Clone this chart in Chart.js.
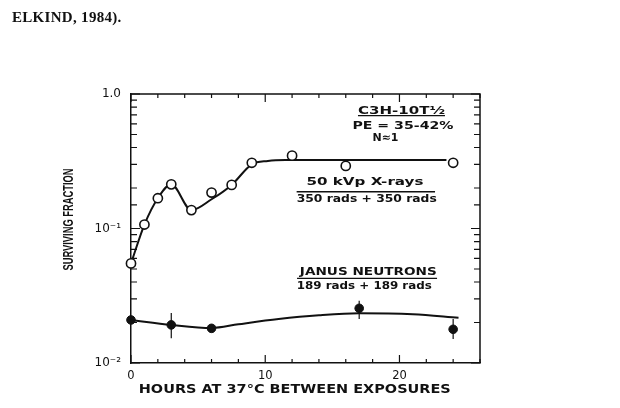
<!DOCTYPE html>
<html>
<head>
<meta charset="utf-8">
<script src="https://cdn.jsdelivr.net/npm/chart.js"></script>
<style>
  body { margin: 0; background: #fff; }
  #cap { position: absolute; left: 12px; top: 9px; font: bold 15px "Liberation Serif", serif; color: #111; letter-spacing: 0.3px; }
  #wrap { position: absolute; left: 0; top: 0; width: 620px; height: 408px; }
</style>
</head>
<body>
<div id="wrap"><canvas id="mycanvas" width="620" height="408"></canvas></div>
<div id="cap">ELKIND, 1984).</div>
<script>
// measured points (hours between exposures, surviving fraction)
var xrayHours = [0, 1, 2, 3, 4.5, 6, 7.5, 9, 12, 16, 24];
var xrayValues = [0.055, 0.107, 0.168, 0.213, 0.137, 0.185, 0.211, 0.308, 0.348, 0.292, 0.308];
var neutronHours = [0, 3, 6, 17, 24];
var neutronValues = [0.0209, 0.0192, 0.0181, 0.0255, 0.0178];
var neutronErrLow = [0.0205, 0.0153, 0.0181, 0.0212, 0.0151];
var neutronErrHigh = [0.0213, 0.0235, 0.0181, 0.0290, 0.0212];

// hand drawn fit curves
var xrayFitHours = [0, 1, 2, 3, 4.5, 6, 7.5, 9, 10.2, 11.5, 23.5];
var xrayFitValues = [0.055, 0.107, 0.168, 0.213, 0.137, 0.165, 0.211, 0.300, 0.318, 0.323, 0.323];
var neutronFitHours = [0, 3, 6, 8, 11, 14, 17, 21, 24.4];
var neutronFitValues = [0.0209, 0.0192, 0.0182, 0.0194, 0.0212, 0.0226, 0.0234, 0.0230, 0.0217];

// tick labels
var yTickValues = [1, 0.1, 0.01];
var yTickLabels = ['1.0', '10\u207B\u00B9', '10\u207B\u00B2'];
var xTickValues = [0, 10, 20];
var xTickLabels = ['0', '10', '20'];

// labels written inside the plot
var noteTexts = ['C3H-10T\u00BD', 'PE = 35-42%', 'N\u22481', '50 kVp X-rays', '350 rads + 350 rads', 'JANUS NEUTRONS', '189 rads + 189 rads'];
var noteHours = [20.15, 20.26, 18.96, 17.43, 17.56, 17.68, 17.38];
var noteValues = [0.747, 0.578, 0.471, 0.222, 0.1657, 0.0475, 0.0369];
var ruleFrom = [16.91, 12.34, 12.37];
var ruleTo = [23.39, 22.65, 22.80];
var ruleValues = [0.690, 0.1877, 0.0426];

function toXY(xs, ys) {
  var out = [];
  for (var i in xs) out.push({x: xs[i], y: ys[i]});
  return out;
}

function stretchText(ctx, text, cx, cy, width, font) {
  ctx.save();
  ctx.font = font;
  var w = ctx.measureText(text).width;
  ctx.translate(cx, cy);
  ctx.scale(width / w, 1);
  ctx.textAlign = 'center';
  ctx.textBaseline = 'middle';
  ctx.fillText(text, 0, 0);
  ctx.restore();
}

var noteWidths = [87, 101, 26, 117, 140, 137, 135];
var ink = '#111';

var framePlugin = {
  id: 'frame',
  afterDatasetsDraw: function(chart) {
    var ctx = chart.ctx;
    var a = chart.chartArea;
    var xs = chart.scales.x, ys = chart.scales.y;
    ctx.save();
    ctx.strokeStyle = ink;
    ctx.fillStyle = ink;
    ctx.lineWidth = 1.5;

    // top and right sides of the box
    ctx.beginPath();
    ctx.moveTo(a.left, a.top); ctx.lineTo(a.right, a.top); ctx.lineTo(a.right, a.bottom);
    ctx.stroke();

    // inward ticks
    ctx.lineWidth = 1.2;
    ctx.beginPath();
    xs.ticks.forEach(function(t) {
      var px = xs.getPixelForValue(t.value);
      var len = (t.value % 10 === 0) ? 8 : 4;
      ctx.moveTo(px, a.bottom); ctx.lineTo(px, a.bottom - len);
      ctx.moveTo(px, a.top); ctx.lineTo(px, a.top + len);
    });
    ys.ticks.forEach(function(t) {
      var py = ys.getPixelForValue(t.value);
      var lg = Math.log10(t.value);
      var major = Math.abs(lg - Math.round(lg)) < 1e-6;
      var len = major ? 9 : 6;
      ctx.moveTo(a.left, py); ctx.lineTo(a.left + len, py);
      ctx.moveTo(a.right, py); ctx.lineTo(a.right - len, py);
    });
    ctx.stroke();

    // error bars on the neutron points
    ctx.lineWidth = 1.2;
    ctx.beginPath();
    for (var i in neutronHours) {
      var px = xs.getPixelForValue(neutronHours[i]);
      ctx.moveTo(px, ys.getPixelForValue(neutronErrLow[i]));
      ctx.lineTo(px, ys.getPixelForValue(neutronErrHigh[i]));
    }
    ctx.stroke();

    // notes
    for (var j in noteTexts) {
      stretchText(ctx, noteTexts[j], xs.getPixelForValue(noteHours[j]), ys.getPixelForValue(noteValues[j]),
        noteWidths[j], 'bold 10.5px "DejaVu Sans"');
    }
    ctx.lineWidth = 1.4;
    ctx.beginPath();
    for (var k in ruleValues) {
      var ry = ys.getPixelForValue(ruleValues[k]);
      ctx.moveTo(xs.getPixelForValue(ruleFrom[k]), ry);
      ctx.lineTo(xs.getPixelForValue(ruleTo[k]), ry);
    }
    ctx.stroke();

    // axis titles
    stretchText(ctx, 'HOURS AT 37\u00B0C BETWEEN EXPOSURES', xs.getPixelForValue(12.2), a.bottom + 27, 312, 'bold 11.5px "DejaVu Sans"');
    ctx.save();
    ctx.translate(a.left - 62, (a.top + a.bottom) / 2 - 9);
    ctx.rotate(-Math.PI / 2);
    stretchText(ctx, 'SURVIVING FRACTION', 0, 0, 102, 'bold 14px "Liberation Sans"');
    ctx.restore();
    ctx.restore();
  }
};

var chartdata = {
  datasets: [
    {
      label: 'X-rays',
      data: toXY(xrayHours, xrayValues),
      showLine: false,
      pointRadius: 4.6,
      pointBackgroundColor: '#fff',
      pointBorderColor: ink,
      pointBorderWidth: 1.6,
      clip: false,
      order: 0
    },
    {
      label: 'Neutrons',
      data: toXY(neutronHours, neutronValues),
      showLine: false,
      pointRadius: 4.3,
      pointBackgroundColor: ink,
      pointBorderColor: ink,
      pointBorderWidth: 1,
      clip: false,
      order: 0
    },
    {
      label: 'X-ray fit',
      data: toXY(xrayFitHours, xrayFitValues),
      borderColor: ink,
      borderWidth: 2,
      pointRadius: 0,
      cubicInterpolationMode: 'monotone',
      clip: false,
      order: 1
    },
    {
      label: 'Neutron fit',
      data: toXY(neutronFitHours, neutronFitValues),
      borderColor: ink,
      borderWidth: 2,
      pointRadius: 0,
      cubicInterpolationMode: 'monotone',
      clip: false,
      order: 1
    }
  ]
};

var ctx = document.getElementById('mycanvas');

var LineGraph = new Chart(ctx, {
  type: 'line',
  data: chartdata,
  plugins: [framePlugin],
  options: {
    responsive: false,
    animation: false,
    layout: { padding: { left: 0, top: 94, right: 140, bottom: 0 } },
    plugins: { legend: { display: false }, tooltip: { enabled: false } },
    scales: {
      x: {
        type: 'linear',
        min: 0,
        max: 26,
        afterFit: function(scale) { scale.height = 45; },
        grid: { display: false, drawTicks: false },
        border: { display: true, color: ink, width: 1.5 },
        ticks: {
          stepSize: 2,
          autoSkip: false,
          maxRotation: 0,
          padding: 6,
          color: ink,
          font: { family: 'DejaVu Sans', size: 11.5 },
          callback: function(v) {
            var i = xTickValues.indexOf(v);
            return i >= 0 ? xTickLabels[i] : '';
          }
        }
      },
      y: {
        type: 'logarithmic',
        min: 0.01,
        max: 1,
        afterFit: function(scale) { scale.width = 131; },
        grid: { display: false, drawTicks: false },
        border: { display: true, color: ink, width: 1.5 },
        ticks: {
          autoSkip: false,
          padding: 10,
          color: ink,
          font: { family: 'DejaVu Sans', size: 12 },
          callback: function(v) {
            for (var i in yTickValues) {
              if (Math.abs(v - yTickValues[i]) < yTickValues[i] * 1e-6) return yTickLabels[i];
            }
            return '';
          }
        }
      }
    }
  }
});
</script>
</body>
</html>
